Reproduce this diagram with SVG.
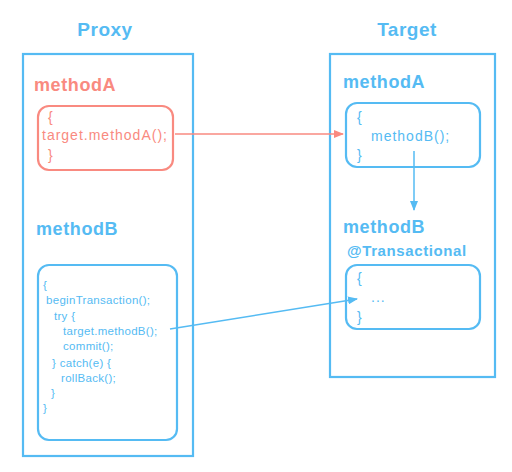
<svg xmlns="http://www.w3.org/2000/svg" width="512" height="472" viewBox="0 0 512 472">
<defs>
<style>
.blue{fill:#55bbf3;}
.red{fill:#f98a80;}
text{font-family:"Liberation Sans","DejaVu Sans",sans-serif;font-weight:bold;}
.title{font-size:19px;letter-spacing:0.5px;}
.label{font-size:18px;letter-spacing:0.6px;}
.code{font-size:14px;font-weight:normal;letter-spacing:1px;}
.small{font-size:11.5px;font-weight:normal;letter-spacing:0.3px;}
.bbox{fill:none;stroke:#55bbf3;stroke-width:2.2;}
.rbox{fill:none;stroke:#f98a80;stroke-width:2.2;}
</style>
<marker id="ab" markerWidth="10" markerHeight="8" refX="9" refY="4" orient="auto" markerUnits="userSpaceOnUse">
<path d="M0,0 L10,4 L0,8 Z" fill="#55bbf3"/>
</marker>
<marker id="ar" markerWidth="10" markerHeight="8" refX="9" refY="4" orient="auto" markerUnits="userSpaceOnUse">
<path d="M0,0 L10,4 L0,8 Z" fill="#f98a80"/>
</marker>
</defs>
<rect width="512" height="472" fill="#ffffff"/>
<g id="proxy">
<text class="title blue" x="105" y="36" text-anchor="middle">Proxy</text>
<rect class="bbox" x="23" y="54" width="170" height="402"/>
</g>
<g id="target">
<text class="title blue" x="407" y="36" text-anchor="middle">Target</text>
<rect class="bbox" x="330" y="54" width="165" height="323"/>
</g>
<g id="proxy-methodA">
<text class="label red" x="34" y="91">methodA</text>
<rect class="rbox" x="38" y="106" width="135" height="64" rx="11"/>
<text class="code red" x="48" y="122">{</text>
<text class="code red" x="42" y="140">target.methodA();</text>
<text class="code red" x="48" y="160">}</text>
</g>
<g id="proxy-methodB">
<text class="label blue" x="36" y="235">methodB</text>
<rect class="bbox" x="38" y="265" width="139" height="175" rx="11"/>
<text class="small blue" x="43" y="289">{</text>
<text class="small blue" x="46" y="304">beginTransaction();</text>
<text class="small blue" x="54" y="320">try {</text>
<text class="small blue" x="63" y="335">target.methodB();</text>
<text class="small blue" x="63" y="350">commit();</text>
<text class="small blue" x="52" y="367">} catch(e) {</text>
<text class="small blue" x="61" y="382">rollBack();</text>
<text class="small blue" x="51" y="397">}</text>
<text class="small blue" x="43" y="412">}</text>
</g>
<g id="target-methodA">
<text class="label blue" x="343" y="88">methodA</text>
<rect class="bbox" x="346" y="103" width="134" height="64" rx="11"/>
<text class="code blue" x="357" y="122">{</text>
<text class="code blue" x="371" y="141">methodB();</text>
<text class="code blue" x="357" y="160">}</text>
</g>
<g id="target-methodB">
<text class="label blue" x="343" y="233">methodB</text>
<text class="blue" x="347" y="256" style="font-size:15px;letter-spacing:0.6px">@Transactional</text>
<rect class="bbox" x="346" y="265" width="134" height="64" rx="11"/>
<text class="code blue" x="357" y="283">{</text>
<text class="code blue" x="371" y="302">...</text>
<text class="code blue" x="357" y="322">}</text>
</g>
<g id="connectors" fill="none" stroke-width="1.5">
<line x1="175" y1="134" x2="343" y2="134" stroke="#f98a80" marker-end="url(#ar)"/>
<line x1="414" y1="151" x2="414" y2="210" stroke="#55bbf3" marker-end="url(#ab)"/>
<line x1="170" y1="329" x2="357" y2="299" stroke="#55bbf3" marker-end="url(#ab)"/>
</g>
</svg>
